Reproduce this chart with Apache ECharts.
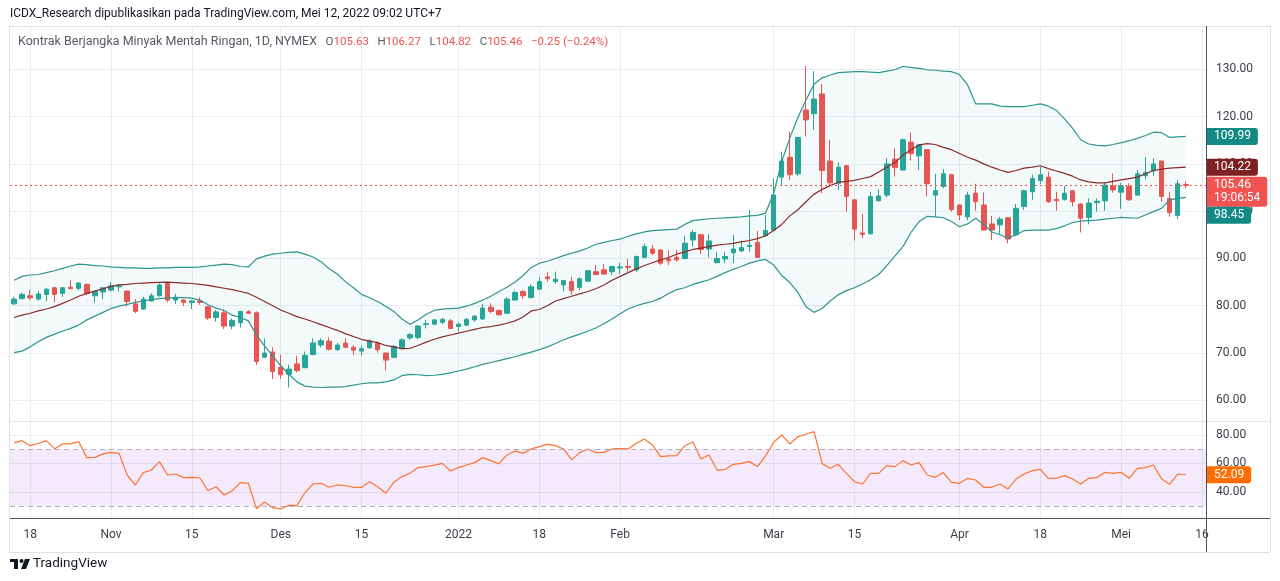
<!DOCTYPE html>
<html>
<head>
<meta charset="utf-8">
<script src="https://cdn.jsdelivr.net/npm/echarts@6/dist/echarts.min.js"></script>
<style>
html, body { margin: 0; padding: 0; background: #fff; }
#chart { width: 1280px; height: 581px; }
</style>
</head>
<body>
<div id="chart"></div>
<script>
// trading days shown on the time axis (last two are empty slots to the right)
const oct21 = [14, 15, 18, 19, 20, 21, 22, 25, 26, 27, 28, 29];
const nov21 = [1, 2, 3, 4, 5, 8, 9, 10, 11, 12, 15, 16, 17, 18, 19, 22, 23, 24, 26, 29, 30];
const dec21 = [1, 2, 3, 6, 7, 8, 9, 10, 13, 14, 15, 16, 17, 20, 21, 22, 23, 27, 28, 29, 30, 31];
const jan22 = [3, 4, 5, 6, 7, 10, 11, 12, 13, 14, 18, 19, 20, 21, 24, 25, 26, 27, 28, 31];
const feb22 = [1, 2, 3, 4, 7, 8, 9, 10, 11, 14, 15, 16, 17, 18, 22, 23, 24, 25, 28];
const mar22 = [1, 2, 3, 4, 7, 8, 9, 10, 11, 14, 15, 16, 17, 18, 21, 22, 23, 24, 25, 28, 29, 30, 31];
const apr22 = [1, 4, 5, 6, 7, 8, 11, 12, 13, 14, 18, 19, 20, 21, 22, 25, 26, 27, 28, 29];
const may22 = [2, 3, 4, 5, 6, 9, 10, 11, 12, 13, 16];

const tickDates = ['2021-10-18', '2021-11-01', '2021-11-15', '2021-12-01', '2021-12-15', '2022-01-03',
  '2022-01-18', '2022-02-01', '2022-03-01', '2022-03-15', '2022-04-01', '2022-04-18', '2022-05-02', '2022-05-16'];
const tickLabels = ['18', 'Nov', '15', 'Des', '15', '2022', '18', 'Feb', 'Mar', '15', 'Apr', '18', 'Mei', '16'];

const opens = [80.4, 81.5, 82.1, 81.4, 82.4, 83.8, 82.6, 83.9, 83.7, 84.5, 82.1, 82.9,
  83.3, 84.0, 83.1, 80.4, 79.3, 81.0, 82.1, 84.7, 81.2, 81.2, 80.7, 81.0, 79.8, 77.5, 78.5, 75.7, 76.4, 78.7, 78.5, 69.1, 70.2,
  67.0, 65.5, 67.7, 66.9, 69.7, 71.7, 72.5, 70.7, 72.1, 71.2, 70.4, 71.1, 72.0, 70.0, 69.1, 70.9, 73.2, 73.3, 76.0, 76.1, 76.5, 76.8,
  75.6, 75.9, 77.0, 77.2, 79.7, 79.0, 78.4, 81.2, 83.0, 81.7, 83.5, 86.1, 85.1, 84.4, 85.1, 83.9, 85.2, 87.2, 87.6, 87.2,
  88.0, 88.3, 87.6, 90.2, 92.0, 91.8, 89.9, 90.2, 90.0, 93.9, 95.0, 92.0, 89.1, 89.9, 91.2, 91.6, 92.5, 93.4, 94.8,
  96.0, 107.2, 111.4, 107.9, 121.4, 120.6, 124.8, 110.6, 105.9, 109.6, 102.4, 95.4, 95.2, 102.2, 103.4, 111.0, 108.7, 114.6, 111.7, 113.0, 103.4, 105.2, 107.7,
  101.3, 98.8, 103.8, 101.3, 97.3, 97.1, 98.6, 95.0, 101.0, 104.1, 106.5, 107.2, 102.5, 102.5, 104.3, 101.5, 98.7, 101.8, 102.2, 105.3,
  104.0, 105.2, 103.4, 107.5, 108.5, 110.6, 102.7, 99.1, 105.63];
const highs = [81.9, 82.8, 83.3, 83.1, 83.8, 84.0, 83.9, 85.4, 85.0, 84.7, 83.3, 83.8,
  85.0, 84.6, 83.2, 81.4, 81.9, 82.6, 84.7, 84.9, 82.5, 81.4, 81.2, 81.8, 79.9, 79.1, 79.2, 77.3, 78.9, 79.1, 78.8, 73.1, 71.2,
  69.6, 67.5, 69.4, 70.3, 73.1, 73.1, 73.3, 72.1, 73.2, 71.7, 71.6, 72.9, 72.4, 70.1, 71.7, 73.1, 74.2, 75.9, 77.0, 77.2, 77.5, 77.2,
  76.4, 77.5, 78.0, 80.4, 80.5, 79.2, 81.8, 83.2, 83.3, 84.5, 86.1, 87.1, 87.2, 85.5, 86.1, 86.0, 87.6, 88.6, 88.8, 88.5,
  89.1, 89.9, 90.6, 93.2, 92.8, 91.9, 91.8, 91.8, 94.8, 96.0, 95.1, 95.1, 91.4, 91.4, 95.0, 93.8, 100.3, 95.8, 99.2,
  106.9, 112.6, 116.8, 115.7, 130.7, 129.6, 126.9, 115.1, 110.3, 109.8, 102.5, 99.4, 104.1, 104.6, 111.2, 113.3, 115.4, 116.6, 114.2, 113.1, 107.9, 108.9, 107.9,
  101.4, 104.1, 105.8, 104.0, 99.0, 98.8, 98.7, 101.5, 104.5, 107.7, 109.4, 108.4, 104.1, 105.3, 104.4, 101.7, 102.7, 102.7, 106.0, 108.0,
  106.0, 105.9, 108.7, 111.4, 111.2, 110.7, 104.1, 106.6, 106.27];
const lows = [80.2, 81.4, 81.2, 81.1, 80.9, 80.7, 81.9, 83.5, 83.2, 82.2, 80.7, 81.4,
  83.0, 83.0, 79.8, 78.4, 79.1, 80.9, 81.9, 80.7, 80.4, 79.9, 79.3, 80.2, 77.0, 76.6, 75.1, 75.0, 75.4, 78.2, 67.5, 68.9, 64.5,
  64.5, 62.7, 65.9, 66.8, 69.5, 71.2, 70.5, 70.5, 71.0, 69.6, 69.4, 70.9, 70.1, 66.3, 68.9, 70.8, 72.8, 72.9, 75.2, 75.9, 76.1, 75.0,
  74.5, 75.7, 76.6, 77.0, 78.4, 77.9, 78.3, 81.1, 81.5, 81.6, 83.3, 85.1, 84.6, 83.0, 82.3, 83.3, 85.1, 86.4, 86.5, 86.5,
  86.7, 87.2, 87.1, 90.1, 90.7, 88.6, 88.6, 89.3, 89.8, 92.5, 90.9, 90.2, 89.0, 89.0, 89.0, 91.4, 91.4, 90.1, 94.6,
  95.7, 105.3, 106.6, 107.5, 115.8, 117.2, 103.8, 105.2, 104.5, 99.9, 93.8, 94.3, 95.1, 102.0, 102.9, 107.3, 108.6, 110.7, 108.7, 103.1, 98.7, 104.8, 99.9,
  98.1, 98.1, 100.1, 95.9, 93.9, 95.2, 93.2, 94.8, 100.3, 102.4, 105.8, 101.7, 100.1, 102.2, 101.0, 95.5, 97.2, 99.9, 100.1, 103.9,
  100.5, 102.2, 103.2, 106.7, 107.5, 102.0, 98.8, 98.4, 104.82];
const closes = [81.4, 82.4, 81.7, 82.5, 83.5, 82.4, 83.8, 83.6, 84.8, 82.6, 83.0, 83.8,
  84.2, 84.3, 80.9, 78.8, 81.4, 82.1, 84.4, 81.2, 81.8, 80.7, 81.0, 80.7, 77.4, 78.7, 75.7, 76.9, 78.8, 78.4, 68.2, 70.0, 66.1,
  65.4, 66.6, 66.3, 69.5, 72.1, 72.6, 70.8, 71.7, 71.2, 70.6, 70.9, 72.6, 70.7, 68.5, 71.4, 72.8, 73.9, 75.7, 76.2, 77.0, 77.1, 75.2,
  76.1, 77.1, 77.8, 79.5, 78.8, 78.1, 81.4, 82.8, 82.1, 84.0, 85.1, 85.7, 85.6, 85.3, 83.2, 85.7, 87.4, 86.6, 86.7, 88.3,
  88.2, 88.1, 90.4, 92.5, 91.1, 89.0, 89.5, 89.7, 93.2, 95.5, 91.9, 93.7, 90.0, 90.4, 92.0, 92.3, 92.8, 90.2, 95.9,
  103.4, 110.6, 107.7, 115.6, 119.3, 123.7, 108.6, 106.0, 109.3, 103.1, 96.2, 95.1, 103.1, 103.2, 110.0, 109.2, 115.1, 112.2, 114.0, 105.8, 104.3, 107.9, 100.3,
  99.2, 103.4, 102.0, 96.0, 96.0, 98.3, 94.1, 100.6, 104.3, 106.9, 107.7, 102.0, 102.2, 103.8, 102.0, 98.5, 101.7, 102.1, 105.5, 104.5,
  105.4, 102.4, 107.9, 108.2, 110.0, 103.1, 99.7, 105.8, 105.46];

// Bollinger bands as drawn
const bbUpper = [85.4, 86.2, 86.5, 86.6, 87.0, 87.4, 87.9, 88.4, 88.8, 88.7, 88.5, 88.4,
  88.2, 88.1, 88.0, 88.0, 87.9, 87.9, 88.0, 88.0, 88.1, 88.1, 88.1, 88.2, 88.4, 88.6, 88.8, 88.7, 88.3, 88.2, 89.9, 90.5, 90.9,
  91.1, 91.3, 91.4, 90.9, 90.3, 89.3, 87.8, 86.7, 85.1, 83.8, 82.4, 81.7, 80.9, 79.9, 78.8, 77.2, 76.1, 77.0, 78.2, 79.0, 79.3, 79.4,
  79.5, 79.9, 80.5, 81.2, 82.0, 83.0, 83.9, 85.0, 86.4, 88.1, 89.0, 89.4, 90.0, 90.6, 91.1, 91.6, 92.2, 93.0, 93.4, 93.8,
  94.1, 94.7, 95.2, 95.6, 95.9, 96.0, 96.1, 96.2, 97.2, 98.0, 98.2, 98.4, 98.5, 98.6, 98.7, 98.8, 99.0, 99.1, 99.6,
  103.8, 110.5, 115.5, 119.8, 123.5, 126.9, 128.2, 128.8, 129.3, 129.4, 129.5, 129.5, 129.4, 129.3, 129.6, 129.9, 130.6, 130.4, 130.2, 129.9, 129.8, 129.6, 129.5,
  128.9, 126.7, 122.7, 122.7, 122.7, 122.2, 122.1, 122.1, 122.1, 122.4, 122.7, 122.2, 121.3, 119.5, 117.5, 115.1, 114.2, 113.9, 113.8, 114.1,
  114.5, 114.9, 115.4, 116.0, 116.7, 116.6, 115.6, 115.7, 115.8];
const bbBasis = [77.5, 78.0, 78.4, 78.9, 79.3, 79.8, 80.5, 81.2, 82.0, 82.6, 83.1, 83.6,
  84.1, 84.4, 84.5, 84.7, 84.8, 84.9, 84.95, 85.0, 84.9, 84.8, 84.7, 84.5, 84.3, 84.0, 83.7, 83.4, 83.0, 82.6, 81.8, 80.9, 80.0,
  79.1, 78.4, 77.7, 77.2, 76.6, 76.0, 75.4, 74.8, 74.1, 73.5, 72.9, 72.5, 72.2, 71.6, 71.3, 70.9, 71.0, 71.6, 72.3, 72.9, 73.4, 73.8,
  74.2, 74.6, 75.0, 75.4, 75.6, 75.9, 76.3, 76.8, 77.6, 78.9, 79.2, 80.0, 81.0, 81.5, 82.0, 82.5, 83.0, 83.6, 84.4, 85.4,
  86.2, 87.0, 87.8, 88.5, 89.1, 89.7, 90.2, 90.9, 91.4, 91.9, 92.2, 92.5, 92.8, 93.0, 93.2, 93.5, 93.8, 94.2, 94.8,
  95.9, 97.2, 99.0, 100.3, 102.0, 103.6, 104.6, 105.4, 106.1, 106.3, 106.5, 106.9, 107.3, 108.3, 109.3, 110.3, 111.8, 113.0, 114.0, 114.3, 114.1, 113.5, 113.0,
  112.2, 111.4, 110.8, 110.0, 109.3, 108.7, 108.2, 108.6, 109.1, 109.3, 109.6, 109.0, 108.5, 108.0, 107.4, 106.6, 106.2, 106.0, 106.0, 106.3,
  106.6, 106.9, 107.2, 107.9, 108.6, 108.9, 109.1, 109.2, 109.3];
const bbLower = [70.1, 70.4, 71.3, 72.4, 73.3, 74.0, 74.6, 75.2, 75.9, 77.0, 77.8, 78.6,
  79.4, 79.9, 80.3, 80.7, 81.0, 81.3, 81.5, 81.6, 81.7, 81.7, 81.6, 81.2, 80.2, 79.5, 79.0, 78.0, 77.5, 76.8, 73.8, 71.5, 69.4,
  67.3, 65.5, 63.9, 63.0, 62.8, 62.7, 62.8, 62.8, 62.9, 63.2, 63.5, 63.7, 63.7, 63.9, 64.3, 65.2, 65.5, 65.4, 65.2, 65.3, 65.5, 65.8,
  66.2, 66.6, 67.1, 67.6, 68.0, 68.4, 68.8, 69.2, 69.7, 70.2, 70.7, 71.3, 72.0, 72.8, 73.4, 74.0, 74.6, 75.3, 76.2, 77.2,
  78.3, 79.3, 80.0, 80.5, 80.9, 81.6, 82.6, 83.4, 83.8, 84.5, 85.0, 85.5, 86.2, 87.0, 87.7, 88.3, 89.0, 89.5, 89.8,
  88.6, 86.4, 84.9, 82.8, 79.8, 78.6, 79.4, 81.0, 82.3, 83.2, 83.8, 84.6, 85.5, 86.6, 88.5, 90.5, 92.5, 95.5, 97.8, 98.9, 98.8, 98.6, 97.8,
  96.7, 97.3, 98.5, 97.2, 95.6, 95.0, 94.3, 95.0, 95.9, 96.0, 96.0, 96.0, 96.3, 96.9, 97.6, 97.9, 98.0, 98.1, 98.3, 98.5,
  98.7, 98.6, 98.5, 99.2, 99.9, 100.6, 102.4, 102.7, 102.9];

const rsi = [74.4, 76.0, 72.5, 74.0, 76.0, 70.2, 73.7, 73.7, 75.3, 64.1, 64.3, 66.7,
  67.8, 67.1, 51.9, 44.9, 53.6, 55.4, 61.3, 51.9, 52.6, 50.1, 50.3, 49.8, 40.9, 43.7, 37.9, 40.9, 46.6, 46.1, 28.3, 33.0, 29.0,
  28.1, 30.6, 30.4, 39.5, 45.6, 46.1, 43.3, 44.9, 44.4, 43.3, 43.3, 47.2, 43.7, 39.1, 46.8, 50.8, 53.1, 57.1, 57.8, 58.9, 60.1, 54.7,
  57.1, 58.9, 60.6, 64.1, 62.0, 59.7, 66.0, 68.8, 67.1, 70.2, 71.8, 73.4, 72.5, 70.2, 62.5, 67.6, 70.2, 67.6, 67.8, 70.2,
  70.4, 70.2, 74.2, 77.2, 73.0, 64.8, 65.3, 65.5, 72.3, 75.3, 63.2, 66.0, 55.4, 55.9, 59.4, 60.1, 61.3, 57.8, 65.3,
  74.9, 80.0, 73.7, 78.8, 80.5, 82.3, 59.9, 56.6, 59.4, 53.1, 47.2, 45.6, 53.1, 53.1, 58.5, 57.8, 62.0, 58.9, 60.6, 51.9, 50.3, 53.6, 46.8,
  46.1, 49.6, 48.4, 43.3, 43.3, 45.6, 42.1, 49.1, 52.6, 55.0, 55.9, 49.6, 49.6, 51.5, 49.1, 45.6, 49.6, 50.1, 53.8, 53.1,
  53.8, 49.6, 56.6, 57.1, 58.9, 49.1, 45.4, 52.6, 52.09];

const bbLabels = ['109.99', '104.22', '98.45'];
const rsiLabel = '52.09';
const countdown = '19:06:54';
const headerText = 'ICDX_Research dipublikasikan pada TradingView.com, Mei 12, 2022 09:02 UTC+7';
const symbolText = 'Kontrak Berjangka Minyak Mentah Ringan, 1D, NYMEX';
const changeText = '\u22120.25 (\u22120.24%)';

const UP = '#26a69a';
const DOWN = '#ef5350';
const BAND = '#2e9590';
const BASIS = '#8a2a2a';
const GRID = '#e7edf2';
const TEXT = '#3b3e48';
const FONT = 'Roboto, "Liberation Sans", sans-serif';

function monthDates(year, month, days) {
  const m = String(month).padStart(2, '0');
  return days.map(d => year + '-' + m + '-' + String(d).padStart(2, '0'));
}
const dates = [].concat(
  monthDates(2021, 10, oct21), monthDates(2021, 11, nov21), monthDates(2021, 12, dec21),
  monthDates(2022, 1, jan22), monthDates(2022, 2, feb22), monthDates(2022, 3, mar22),
  monthDates(2022, 4, apr22), monthDates(2022, 5, may22)
);
const labelOf = {};
tickDates.forEach((d, i) => { labelOf[d] = tickLabels[i]; });
const isTick = (idx, val) => labelOf[val] !== undefined;

const candles = opens.map((o, i) => [o, closes[i], lows[i], highs[i]]);
const bandWidth = bbUpper.map((u, i) => +(u - bbLower[i]).toFixed(2));
const last = closes.length - 1;

const chart = echarts.init(document.getElementById('chart'));

function xAxisFor(gridIndex, showLabels) {
  return {
    type: 'category',
    gridIndex: gridIndex,
    data: dates,
    boundaryGap: true,
    axisLine: { show: false },
    axisTick: { show: false, interval: isTick },
    axisLabel: {
      show: showLabels,
      interval: isTick,
      formatter: v => labelOf[v] || '',
      color: TEXT,
      fontSize: 12,
      fontFamily: FONT,
      margin: 11
    },
    splitLine: { show: true, interval: isTick, alignWithLabel: true, lineStyle: { color: GRID, width: 1 } }
  };
}

function lineSeries(name, data, color, width, extra) {
  return Object.assign({
    name: name,
    type: 'line',
    xAxisIndex: 0,
    yAxisIndex: 0,
    data: data,
    symbol: 'none',
    silent: true,
    animation: false,
    lineStyle: { color: color, width: width }
  }, extra || {});
}

chart.setOption({
  animation: false,
  backgroundColor: '#ffffff',
  grid: [
    { left: 10, width: 1196, top: 26, height: 395, show: false },
    { left: 10, width: 1196, top: 421, height: 97, show: false }
  ],
  xAxis: [xAxisFor(0, false), xAxisFor(1, true)],
  yAxis: [
    {
      type: 'value', gridIndex: 0, position: 'right', min: 55.62, max: 139.16, splitNumber: 8,
      axisLine: { show: false }, axisTick: { show: false },
      axisLabel: { formatter: v => v.toFixed(2), color: TEXT, fontSize: 12, fontFamily: FONT, margin: 10, showMinLabel: false, showMaxLabel: false },
      splitLine: { lineStyle: { color: GRID, width: 1 } }
    },
    {
      type: 'value', gridIndex: 1, position: 'right', min: 21.75, max: 89.8, splitNumber: 3,
      axisLine: { show: false }, axisTick: { show: false },
      axisLabel: { formatter: v => v.toFixed(2), color: TEXT, fontSize: 12, fontFamily: FONT, margin: 10, showMinLabel: false, showMaxLabel: false },
      splitLine: { lineStyle: { color: GRID, width: 1 } }
    }
  ],
  series: [
    lineSeries('bbBase', bbLower, 'rgba(0,0,0,0)', 0, { stack: 'bb' }),
    lineSeries('bbFill', bandWidth, 'rgba(0,0,0,0)', 0, { stack: 'bb', areaStyle: { color: 'rgba(46,149,144,0.07)' } }),
    lineSeries('Upper', bbUpper, BAND, 1.2),
    lineSeries('Lower', bbLower, BAND, 1.2),
    lineSeries('Basis', bbBasis, BASIS, 1.2),
    {
      name: 'CL',
      type: 'candlestick',
      xAxisIndex: 0,
      yAxisIndex: 0,
      data: candles,
      barWidth: 5,
      animation: false,
      itemStyle: { color: UP, color0: DOWN, borderColor: UP, borderColor0: DOWN, borderWidth: 1 },
      markLine: {
        silent: true,
        symbol: ['none', 'none'],
        label: { show: false },
        lineStyle: { color: DOWN, type: [2, 3], width: 1, opacity: 1 },
        data: [{ yAxis: closes[last] }]
      }
    },
    {
      name: 'RSI',
      type: 'line',
      xAxisIndex: 1,
      yAxisIndex: 1,
      data: rsi,
      symbol: 'none',
      silent: true,
      lineStyle: { color: '#ff7330', width: 1.2 },
      markArea: {
        silent: true,
        itemStyle: { color: 'rgba(170,80,230,0.12)' },
        data: [[{ yAxis: 70 }, { yAxis: 30 }]]
      },
      markLine: {
        silent: true,
        symbol: ['none', 'none'],
        label: { show: false },
        lineStyle: { color: '#aeb0b8', type: [5, 4], width: 1 },
        data: [{ yAxis: 70 }, { yAxis: 30 }]
      }
    }
  ]
});

// price-scale badges, stacked so they do not overlap
const py = v => chart.convertToPixel({ yAxisIndex: 0 }, v);
const ry = v => chart.convertToPixel({ yAxisIndex: 1 }, v);
const badges = [
  { text: bbLabels[0], y: py(bbUpper[last]), bg: '#148a84', lines: 1 },
  { text: bbLabels[1], y: py(bbBasis[last]), bg: '#7e1f21', lines: 1 },
  { text: closes[last].toFixed(2) + '\n' + countdown, y: py(closes[last]), bg: '#f05350', lines: 2 },
  { text: bbLabels[2], y: py(bbLower[last]), bg: '#148a84', lines: 1 }
].sort((a, b) => a.y - b.y);
let bottom = -1e9;
const badgeEls = [];
badges.forEach(b => {
  let top = Math.max(b.y - 8.5, bottom);
  bottom = top + (b.lines === 2 ? 30 : 17);
  badgeEls.push({
    type: 'text', z: 100, x: 1207, y: top,
    style: {
      text: b.text, fill: '#ffffff', fontSize: 12, fontFamily: FONT, lineHeight: 13,
      backgroundColor: b.bg, padding: [2, 7, 2, 7], borderRadius: [0, 3, 3, 0],
      align: 'left', verticalAlign: 'top'
    }
  });
});
badgeEls.push({
  type: 'text', z: 100, x: 1207, y: ry(rsi[last]) - 8.5,
  style: {
    text: rsiLabel, fill: '#ffffff', fontSize: 12, fontFamily: FONT, lineHeight: 13,
    backgroundColor: '#ff6d00', padding: [2, 7, 2, 7], borderRadius: [0, 3, 3, 0],
    align: 'left', verticalAlign: 'top'
  }
});

const frame = '#e0e3eb';
const axisDark = '#50535e';
const frameEls = [
  { type: 'line', z: 50, shape: { x1: 9, y1: 26.5, x2: 1270, y2: 26.5 }, style: { stroke: frame, lineWidth: 1 } },
  { type: 'line', z: 50, shape: { x1: 9.5, y1: 26, x2: 9.5, y2: 552 }, style: { stroke: frame, lineWidth: 1 } },
  { type: 'line', z: 50, shape: { x1: 1270.5, y1: 26, x2: 1270.5, y2: 552 }, style: { stroke: frame, lineWidth: 1 } },
  { type: 'line', z: 50, shape: { x1: 9, y1: 552.5, x2: 1270, y2: 552.5 }, style: { stroke: frame, lineWidth: 1 } },
  { type: 'line', z: 50, shape: { x1: 10, y1: 421.5, x2: 1270, y2: 421.5 }, style: { stroke: frame, lineWidth: 1 } },
  { type: 'line', z: 50, shape: { x1: 10, y1: 518.5, x2: 1270, y2: 518.5 }, style: { stroke: axisDark, lineWidth: 1 } },
  { type: 'line', z: 50, shape: { x1: 1206.5, y1: 26, x2: 1206.5, y2: 552 }, style: { stroke: axisDark, lineWidth: 1 } }
];

const o = opens[last].toFixed(2), h = highs[last].toFixed(2), l = lows[last].toFixed(2), c = closes[last].toFixed(2);
const textEls = [
  {
    type: 'text', x: 10, y: 14, z: 60,
    style: { text: headerText, fill: '#131722', fontSize: 12, fontFamily: FONT, verticalAlign: 'middle' }
  },
  {
    type: 'text', x: 18, y: 42, z: 60,
    style: {
      text: '{s|' + symbolText + '}   {g|O}{r|' + o + '}   {g|H}{r|' + h + '}   {g|L}{r|' + l + '}   {g|C}{r|' + c + '}   {r|' + changeText + '}',
      verticalAlign: 'middle', fontSize: 11.5, fontFamily: FONT,
      rich: {
        s: { fill: '#555a66', fontSize: 12.5, fontFamily: FONT },
        g: { fill: '#555a66', fontSize: 11.5, fontFamily: FONT },
        r: { fill: '#ef5350', fontSize: 11.5, fontFamily: FONT }
      }
    }
  },
  // TradingView mark
  { type: 'rect', z: 60, shape: { x: 10, y: 559, width: 8, height: 3 }, style: { fill: '#131722' } },
  { type: 'rect', z: 60, shape: { x: 14, y: 559, width: 4, height: 10 }, style: { fill: '#131722' } },
  { type: 'circle', z: 60, shape: { cx: 21.5, cy: 561, r: 2 }, style: { fill: '#131722' } },
  { type: 'polygon', z: 60, shape: { points: [[25, 559], [30, 559], [26, 569], [21, 569]] }, style: { fill: '#131722' } },
  {
    type: 'text', x: 33, y: 564, z: 60,
    style: { text: 'TradingView', fill: '#131722', fontSize: 13.5, fontFamily: FONT, verticalAlign: 'middle' }
  }
];

chart.setOption({ graphic: { elements: frameEls.concat(textEls, badgeEls) } });
</script>
</body>
</html>
